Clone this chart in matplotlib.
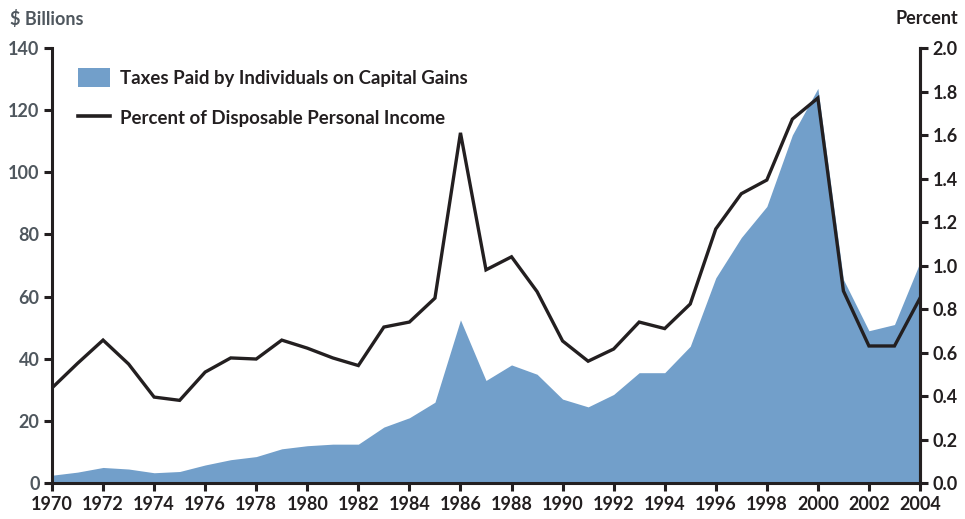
import matplotlib
matplotlib.use("Agg")
import matplotlib.pyplot as plt
from matplotlib.patches import Patch
from matplotlib.lines import Line2D

years = list(range(1970, 2005))
taxes = [2.5, 3.5, 5.0, 4.5, 3.3, 3.7, 5.8, 7.5, 8.5, 11.0, 12.0, 12.5, 12.5,
         18.0, 21.0, 26.0, 52.5, 33.0, 38.0, 35.0, 27.0, 24.5, 28.5, 35.5,
         35.5, 44.0, 66.0, 79.0, 89.0, 112.0, 127.0, 65.5, 49.0, 51.0, 71.0]
percent = [0.437, 0.55, 0.657, 0.547, 0.395, 0.38, 0.51, 0.575, 0.57, 0.657,
           0.62, 0.575, 0.54, 0.717, 0.74, 0.85, 1.61, 0.98, 1.04, 0.88,
           0.653, 0.56, 0.616, 0.74, 0.71, 0.823, 1.168, 1.33, 1.393, 1.673,
           1.77, 0.883, 0.63, 0.63, 0.85]
left_ticks = [0, 20, 40, 60, 80, 100, 120, 140]
right_ticks = [0.0, 0.2, 0.4, 0.6, 0.8, 1.0, 1.2, 1.4, 1.6, 1.8, 2.0]
x_ticks = list(range(1970, 2005, 2))

plt.rcParams['font.family'] = ['Lato', 'DejaVu Sans']
area_color = '#729fca'
dark = '#231f20'
gray = '#4f575e'

fig = plt.figure(figsize=(9.65, 5.19), dpi=100)
ax = fig.add_axes([52/965, 1-483/519, 868/965, 435/519])
ax.fill_between(years, taxes, 0, color=area_color, linewidth=0, zorder=1)
ax.set_xlim(1970, 2004)
ax.set_ylim(0, 140)
ax.set_yticks(left_ticks)
ax.set_xticks(x_ticks)
ax.set_xticklabels([str(x) for x in x_ticks], fontsize=13, fontweight='bold', color=dark)
ax.set_yticklabels([str(t) for t in left_ticks], fontsize=13, fontweight='bold', color=gray)
ax.spines['top'].set_visible(False)
for s in ['left', 'bottom', 'right']:
    ax.spines[s].set_linewidth(2.2)
    ax.spines[s].set_color(dark)
ax.tick_params(axis='both', width=2.2, length=6, color=dark, pad=3)

ax2 = ax.twinx()
ax2.plot(years, percent, color=dark, linewidth=2.4, zorder=3, solid_joinstyle='miter')
ax2.set_ylim(0, 2.0)
ax2.set_yticks(right_ticks)
ax2.set_yticklabels([f"{t:.1f}" for t in right_ticks], fontsize=13, fontweight='bold', color=dark)
ax2.spines['top'].set_visible(False)
ax2.spines['left'].set_visible(False)
ax2.spines['bottom'].set_visible(False)
ax2.spines['right'].set_linewidth(2.2)
ax2.spines['right'].set_color(dark)
ax2.tick_params(axis='y', width=2.2, length=6, color=dark, pad=3)

fig.text(10/965, 1-19/519, '$ Billions', fontsize=13, fontweight='bold', color=gray, va='center', ha='left')
fig.text(958/965, 1-19/519, 'Percent', fontsize=13, fontweight='bold', color=dark, va='center', ha='right')

handles = [Patch(facecolor=area_color, edgecolor='none'),
           Line2D([0], [0], color=dark, linewidth=2.6)]
labels = ['Taxes Paid by Individuals on Capital Gains', 'Percent of Disposable Personal Income']
leg = ax.legend(handles, labels, loc='upper left', bbox_to_anchor=(0.030, 0.955), frameon=False,
                fontsize=13.4, handlelength=1.72, handleheight=1.24, labelspacing=1.12,
                handletextpad=0.54, borderaxespad=0, borderpad=0)
for t in leg.get_texts():
    t.set_color(dark)
    t.set_fontweight('bold')

fig.savefig('out.png', dpi=100)
